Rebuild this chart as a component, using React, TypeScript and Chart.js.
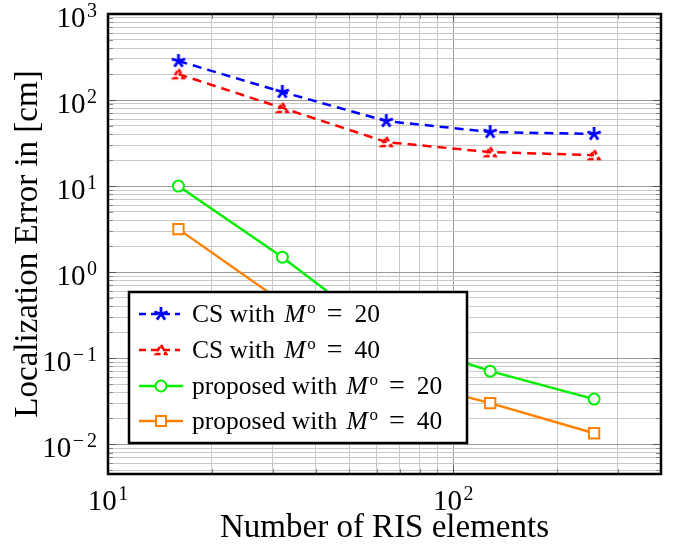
import React, { useEffect, useRef } from "react";
import { Chart, registerables } from "chart.js";

Chart.register(...registerables);

// ---- data ----
const risElements = [16, 32, 64, 128, 256];
const csM20 = [284, 124, 57, 42.5, 40.3];
const csM40 = [200, 81, 32.5, 24.8, 22.9];
const proposedM20 = [10, 1.49, 0.18, 0.0706, 0.0334];
const proposedM40 = [3.16, 0.45, 0.062, 0.03, 0.0134];

const legendPrefixes = ["CS with ", "CS with ", "proposed with ", "proposed with "];
const legendMValues = ["20", "40", "20", "40"];

const xTitle = "Number of RIS elements";
const yTitle = "Localization Error in [cm]";

const xMin = 10;
const xMax = 400;
const yMin = 0.0045;
const yMax = 1000;
const minorMultipliers = [1, 2, 3, 4, 5, 6, 7, 8, 9];

const SERIF = '"Liberation Serif", "Times New Roman", serif';

function buildLogTicks(min: number, max: number) {
  const out: { value: number; major: boolean }[] = [];
  for (let e = Math.floor(Math.log10(min)); e <= Math.ceil(Math.log10(max)); e++) {
    for (const m of minorMultipliers) {
      const v = parseFloat((m * Math.pow(10, e)).toPrecision(6));
      if (v >= min * 0.99999 && v <= max * 1.00001) out.push({ value: v, major: m === 1 });
    }
  }
  return out;
}

function makeStar(color: string, r: number, lw: number) {
  const size = Math.ceil(2 * r + lw * 2);
  const c = document.createElement("canvas");
  c.width = size;
  c.height = size;
  const g = c.getContext("2d")!;
  g.strokeStyle = color;
  g.lineWidth = lw;
  const cx = size / 2;
  const cy = size / 2;
  for (let i = 0; i < 5; i++) {
    const a = -Math.PI / 2 + (i * 2 * Math.PI) / 5;
    g.beginPath();
    g.moveTo(cx, cy);
    g.lineTo(cx + r * Math.cos(a), cy + r * Math.sin(a));
    g.stroke();
  }
  return c;
}

function makeDashedTriangle(color: string, r: number, lw: number) {
  const size = Math.ceil(2 * r + lw * 2);
  const c = document.createElement("canvas");
  c.width = size;
  c.height = size;
  const g = c.getContext("2d")!;
  g.strokeStyle = color;
  g.lineWidth = lw;
  g.setLineDash([5, 3]);
  const cx = size / 2;
  const cy = size / 2;
  g.beginPath();
  for (let i = 0; i < 3; i++) {
    const a = -Math.PI / 2 + (i * 2 * Math.PI) / 3;
    const px = cx + r * Math.cos(a);
    const py = cy + r * Math.sin(a) + 1;
    if (i === 0) g.moveTo(px, py);
    else g.lineTo(px, py);
  }
  g.closePath();
  g.stroke();
  return c;
}

function drawPow(ctx: CanvasRenderingContext2D, x: number, baseY: number, exp: number, align: "center" | "right") {
  const baseFont = `29px ${SERIF}`;
  const expFont = `20px ${SERIF}`;
  ctx.font = baseFont;
  const w10 = ctx.measureText("10").width;
  const neg = exp < 0;
  const digits = String(Math.abs(exp));
  ctx.font = expFont;
  const wMinus = neg ? ctx.measureText("\u2212").width + 3 : 0;
  const wDig = ctx.measureText(digits).width;
  const total = w10 + 1.5 + wMinus + wDig;
  const left = align === "center" ? x - total / 2 : x - total;
  ctx.textAlign = "left";
  ctx.textBaseline = "alphabetic";
  ctx.fillStyle = "#000";
  ctx.font = baseFont;
  ctx.fillText("10", left, baseY);
  ctx.font = expFont;
  let ex = left + w10 + 1.5;
  if (neg) {
    ctx.fillText("\u2212", ex, baseY - 10);
    ex += wMinus;
  }
  ctx.fillText(digits, ex, baseY - 10);
}

function drawLegendText(ctx: CanvasRenderingContext2D, x: number, baseY: number, prefix: string, mVal: string) {
  const fs = 25.5;
  ctx.textAlign = "left";
  ctx.textBaseline = "alphabetic";
  ctx.fillStyle = "#000";
  ctx.font = `${fs}px ${SERIF}`;
  ctx.fillText(prefix, x, baseY);
  let cx = x + ctx.measureText(prefix).width + 3;
  ctx.font = `italic ${fs}px ${SERIF}`;
  ctx.fillText("M", cx, baseY);
  cx += 23;
  ctx.font = `17px ${SERIF}`;
  ctx.fillText("o", cx, baseY - 9);
  cx += ctx.measureText("o").width + 11;
  ctx.font = `28px ${SERIF}`;
  ctx.fillText("=", cx, baseY);
  cx += ctx.measureText("=").width + 12;
  ctx.font = `${fs}px ${SERIF}`;
  ctx.fillText(mVal, cx, baseY);
}

export default function App() {
  const ref = useRef<HTMLCanvasElement>(null);

  useEffect(() => {
    const starImg = makeStar("#0000ff", 7, 2.8);
    const triImg = makeDashedTriangle("#ff0000", 6, 2.6);
    const colors = ["#0000ff", "#ff0000", "#00ee00", "#ff8000"];

    const toPts = (ys: number[]) => risElements.map((x, i) => ({ x, y: ys[i] }));

    const overlay = {
      id: "overlay",
      afterDatasetsDraw(chart: any) {
        const { ctx, chartArea: a, scales } = chart;
        const xs = scales.x;
        const ys = scales.y;
        ctx.save();
        ctx.lineWidth = 1;
        const seg = (x1: number, y1: number, x2: number, y2: number) => {
          ctx.beginPath();
          ctx.moveTo(x1, y1);
          ctx.lineTo(x2, y2);
          ctx.stroke();
        };
        for (const t of xs.ticks) {
          const px = Math.round(xs.getPixelForValue(t.value)) + 0.5;
          const len = t.major ? 8 : 5;
          ctx.strokeStyle = t.major ? "#555" : "#888";
          seg(px, a.bottom, px, a.bottom - len);
          seg(px, a.top, px, a.top + len);
        }
        for (const t of ys.ticks) {
          const py = Math.round(ys.getPixelForValue(t.value)) + 0.5;
          const len = t.major ? 8 : 5;
          ctx.strokeStyle = t.major ? "#555" : "#888";
          seg(a.left, py, a.left + len, py);
          seg(a.right, py, a.right - len, py);
        }
        ctx.lineWidth = 2.5;
        ctx.strokeStyle = "#000";
        ctx.setLineDash([]);
        ctx.strokeRect(a.left, a.top, a.right - a.left, a.bottom - a.top);

        for (const t of xs.ticks) {
          if (!t.major) continue;
          const e = Math.round(Math.log10(t.value));
          drawPow(ctx, xs.getPixelForValue(t.value), a.bottom + 36, e, "center");
        }
        for (const t of ys.ticks) {
          if (!t.major) continue;
          const e = Math.round(Math.log10(t.value));
          drawPow(ctx, a.left - 11, ys.getPixelForValue(t.value) + 12.5, e, "right");
        }

        ctx.fillStyle = "#000";
        ctx.font = `33px ${SERIF}`;
        ctx.textAlign = "center";
        ctx.textBaseline = "alphabetic";
        ctx.fillText(xTitle, (a.left + a.right) / 2, a.bottom + 63);
        ctx.save();
        ctx.translate(37, (a.top + a.bottom) / 2);
        ctx.rotate(-Math.PI / 2);
        ctx.fillText(yTitle, 0, 0);
        ctx.restore();

        const lx = 129, ly = 292, lw = 338, lh = 151;
        ctx.fillStyle = "#fff";
        ctx.fillRect(lx, ly, lw, lh);
        ctx.lineWidth = 2.5;
        ctx.strokeStyle = "#000";
        ctx.strokeRect(lx, ly, lw, lh);
        const rowY = [314, 350, 386, 421];
        for (let i = 0; i < 4; i++) {
          const y = rowY[i];
          ctx.strokeStyle = colors[i];
          if (i < 2) {
            ctx.lineWidth = 2.5;
            ctx.setLineDash([7, 5]);
            seg(139, y, 180, y);
            ctx.setLineDash([]);
            const img = i === 0 ? starImg : triImg;
            ctx.drawImage(img, 161 - img.width / 2, y - img.height / 2);
          } else {
            ctx.lineWidth = 2.4;
            ctx.setLineDash([]);
            seg(139, y, 183, y);
            ctx.fillStyle = "#fff";
            ctx.lineWidth = 2;
            if (i === 2) {
              ctx.beginPath();
              ctx.arc(161, y, 5.5, 0, Math.PI * 2);
              ctx.fill();
              ctx.stroke();
            } else {
              ctx.fillRect(156, y - 5, 10, 10);
              ctx.strokeRect(156, y - 5, 10, 10);
            }
          }
          drawLegendText(ctx, 192, y + 8, legendPrefixes[i], legendMValues[i]);
        }
        ctx.restore();
      },
    };

    const gridColor = (c: any) => (c.tick && c.tick.major ? "#999999" : "#c8c8c8");

    const chart = new Chart(ref.current!, {
      type: "line",
      data: {
        datasets: [
          {
            label: "CS with M=20",
            data: toPts(csM20),
            borderColor: colors[0],
            backgroundColor: colors[0],
            borderWidth: 2.5,
            borderDash: [9, 6],
            pointStyle: starImg as any,
            pointRadius: 6,
            tension: 0,
          },
          {
            label: "CS with M=40",
            data: toPts(csM40),
            borderColor: colors[1],
            backgroundColor: colors[1],
            borderWidth: 2.5,
            borderDash: [9, 6],
            pointStyle: triImg as any,
            pointRadius: 6,
            tension: 0,
          },
          {
            label: "proposed with M=20",
            data: toPts(proposedM20),
            borderColor: colors[2],
            backgroundColor: "#ffffff",
            borderWidth: 2.4,
            pointStyle: "circle",
            pointRadius: 5.5,
            pointBorderWidth: 2,
            pointBorderColor: colors[2],
            pointBackgroundColor: "#ffffff",
            tension: 0,
          },
          {
            label: "proposed with M=40",
            data: toPts(proposedM40),
            borderColor: colors[3],
            backgroundColor: "#ffffff",
            borderWidth: 2.4,
            pointStyle: "rect",
            pointRadius: 7.3,
            pointBorderWidth: 2,
            pointBorderColor: colors[3],
            pointBackgroundColor: "#ffffff",
            tension: 0,
          },
        ],
      },
      options: {
        responsive: false,
        animation: false,
        devicePixelRatio: 1,
        layout: { padding: { left: 108, right: 17, top: 14, bottom: 84 } },
        plugins: { legend: { display: false }, tooltip: { enabled: false } },
        scales: {
          x: {
            type: "logarithmic",
            min: xMin,
            max: xMax,
            afterBuildTicks: (s: any) => {
              s.ticks = buildLogTicks(xMin, xMax);
            },
            ticks: { display: false, autoSkip: false },
            grid: { color: gridColor, lineWidth: 1, drawTicks: false },
            border: { display: false },
          },
          y: {
            type: "logarithmic",
            min: yMin,
            max: yMax,
            afterBuildTicks: (s: any) => {
              s.ticks = buildLogTicks(yMin, yMax);
            },
            ticks: { display: false, autoSkip: false },
            grid: { color: gridColor, lineWidth: 1, drawTicks: false },
            border: { display: false },
          },
        },
      },
      plugins: [overlay],
    } as any);
    return () => chart.destroy();
  }, []);

  return (
    <div style={{ position: "absolute", left: 0, top: 0, width: 678, height: 558, background: "#fff" }}>
      <canvas ref={ref} width={678} height={558} style={{ display: "block" }} />
    </div>
  );
}
